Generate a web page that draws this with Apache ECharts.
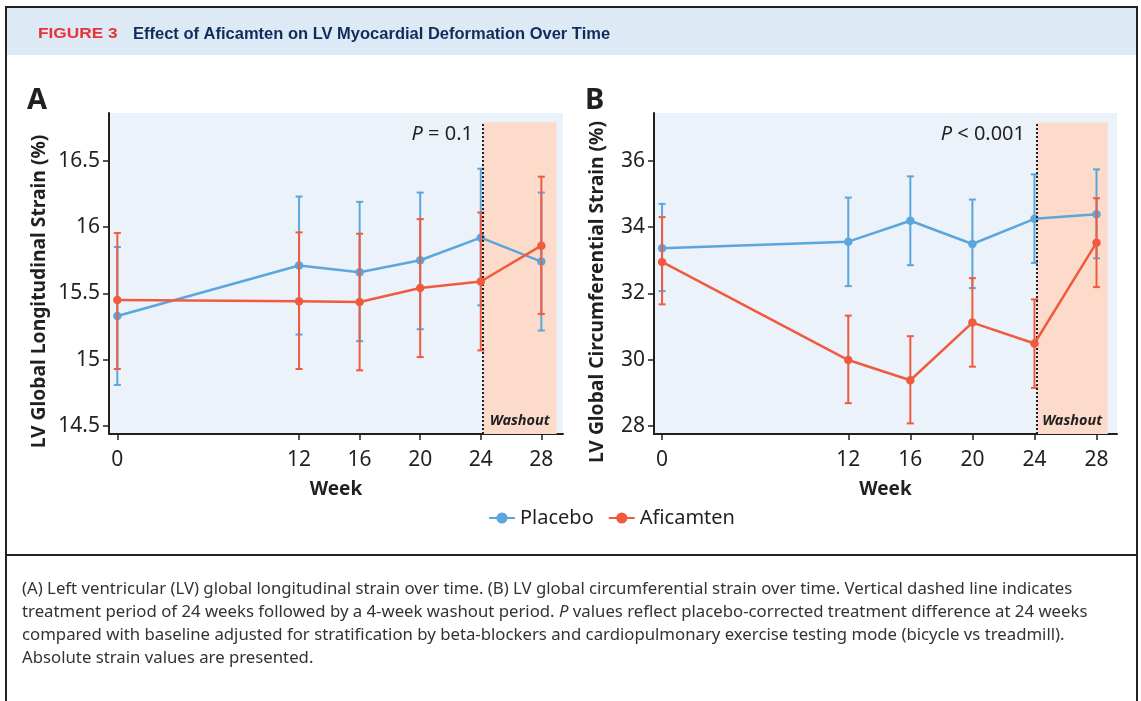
<!DOCTYPE html>
<html><head><meta charset="utf-8">
<script src="https://cdn.jsdelivr.net/npm/echarts@6/dist/echarts.min.js"></script>
<style>html,body{margin:0;padding:0;background:#fff}#c{width:1141px;height:701px}</style>
</head><body><div id="c"></div>
<script>
// ---- data ----
const weeks = [0, 12, 16, 20, 24, 28];
const weekTicks = [0, 12, 16, 20, 24, 28];
// Panel A: LV global longitudinal strain (%)
const glsPlacebo      = [15.33, 15.71, 15.66, 15.75, 15.92, 15.74];
const glsPlaceboLow   = [14.81, 15.19, 15.14, 15.23, 15.41, 15.22];
const glsPlaceboHigh  = [15.85, 16.23, 16.19, 16.26, 16.44, 16.26];
const glsAfi          = [15.45, 15.44, 15.435, 15.54, 15.59, 15.86];
const glsAfiLow       = [14.93, 14.93, 14.92, 15.02, 15.07, 15.345];
const glsAfiHigh      = [15.955, 15.96, 15.95, 16.06, 16.11, 16.38];
const glsTicks = [14.5, 15, 15.5, 16, 16.5];
// Panel B: LV global circumferential strain (%)
const gcsPlacebo      = [33.36, 33.56, 34.19, 33.49, 34.25, 34.39];
const gcsPlaceboLow   = [32.07, 32.22, 32.85, 32.16, 32.92, 33.06];
const gcsPlaceboHigh  = [34.70, 34.89, 35.53, 34.83, 35.59, 35.74];
const gcsAfi          = [32.95, 29.99, 29.38, 31.12, 30.49, 33.53];
const gcsAfiLow       = [31.67, 28.69, 28.08, 29.79, 29.15, 32.19];
const gcsAfiHigh      = [34.30, 31.33, 30.71, 32.46, 31.82, 34.87];
const gcsTicks = [28, 30, 32, 34, 36];
const washoutStart = 24.15;

// ---- styling ----
const BLUE = '#5ba6dc', RED = '#f05b3f', INK = '#231f20';
const FONT = '"Noto Sans", "Open Sans", sans-serif';
const zip = (a, b) => a.map((v, i) => [v, b[i]]);
const zip3 = (a, b, c) => a.map((v, i) => [v, b[i], c[i]]);

function errRender(params, api) {
  const x = api.value(0), lo = api.value(1), hi = api.value(2);
  const a = api.coord([x, lo]), b = api.coord([x, hi]);
  const w = 3.5;
  const st = { stroke: api.visual('color'), lineWidth: 2 };
  return { type: 'group', children: [
    { type: 'line', shape: { x1: a[0], y1: a[1], x2: b[0], y2: b[1] }, style: st },
    { type: 'line', shape: { x1: a[0] - w, y1: a[1], x2: a[0] + w, y2: a[1] }, style: st },
    { type: 'line', shape: { x1: b[0] - w, y1: b[1], x2: b[0] + w, y2: b[1] }, style: st }
  ]};
}

function xAxisDef(idx, min, max) {
  return {
    type: 'value', gridIndex: idx, min: min, max: max,
    name: 'Week', nameLocation: 'middle', nameGap: 46,
    nameTextStyle: { fontFamily: FONT, fontWeight: 'bold', fontSize: 19, color: INK },
    axisLine: { show: true, onZero: false, lineStyle: { color: INK, width: 2 } },
    axisTick: { show: true, length: 6, lineStyle: { color: INK, width: 1.5 }, customValues: weekTicks },
    axisLabel: { fontFamily: FONT, fontSize: 21, color: INK, margin: 16, customValues: weekTicks },
    splitLine: { show: false }
  };
}
function yAxisDef(idx, min, max, ticks) {
  return {
    type: 'value', gridIndex: idx, min: min, max: max,
    axisLine: { show: true, onZero: false, lineStyle: { color: INK, width: 2 } },
    axisTick: { show: true, length: 6, lineStyle: { color: INK, width: 1.5 }, customValues: ticks },
    axisLabel: { fontFamily: FONT, fontSize: 21, color: INK, margin: 9, customValues: ticks },
    splitLine: { show: false }
  };
}

function panelSeries(idx, placebo, pLo, pHi, afi, aLo, aHi, xMax, yMin, yTop) {
  return [
    { type: 'line', xAxisIndex: idx, yAxisIndex: idx, data: [], silent: true,
      markArea: { silent: true, itemStyle: { color: '#fcdbcb' },
        label: { show: true, position: 'insideBottom', distance: 6, formatter: 'Washout',
          fontFamily: FONT, fontWeight: 'bold', fontStyle: 'italic', fontSize: 14.5, color: INK },
        data: [[{ coord: [washoutStart, yTop] }, { coord: [xMax, yMin] }]] },
      markLine: { silent: true, symbol: 'none', label: { show: false },
        lineStyle: { color: INK, type: [2, 2], width: 2 },
        data: [[{ coord: [washoutStart, yMin] }, { coord: [washoutStart, yTop] }]] }
    },
    { type: 'custom', name: 'errP' + idx, xAxisIndex: idx, yAxisIndex: idx, renderItem: errRender,
      itemStyle: { color: BLUE }, data: zip3(weeks, pLo, pHi), z: 2 },
    { type: 'line', name: 'Placebo', xAxisIndex: idx, yAxisIndex: idx, data: zip(weeks, placebo),
      color: BLUE, symbol: 'circle', symbolSize: 8.5, lineStyle: { width: 2.5, color: BLUE },
      itemStyle: { color: BLUE }, z: 3 },
    { type: 'custom', name: 'errA' + idx, xAxisIndex: idx, yAxisIndex: idx, renderItem: errRender,
      itemStyle: { color: RED }, data: zip3(weeks, aLo, aHi), z: 4 },
    { type: 'line', name: 'Aficamten', xAxisIndex: idx, yAxisIndex: idx, data: zip(weeks, afi),
      color: RED, symbol: 'circle', symbolSize: 8.5, lineStyle: { width: 2.5, color: RED },
      itemStyle: { color: RED }, z: 5 }
  ];
}

const caption = [
  '(A) Left ventricular (LV) global longitudinal strain over time. (B) LV global circumferential strain over time. Vertical dashed line indicates',
  'treatment period of 24 weeks followed by a 4-week washout period. {i|P} values reflect placebo-corrected treatment difference at 24 weeks',
  'compared with baseline adjusted for stratification by beta-blockers and cardiopulmonary exercise testing mode (bicycle vs treadmill).',
  'Absolute strain values are presented.'
];

const chart = echarts.init(document.getElementById('c'), null, { renderer: 'canvas' });
const CAPSIZE = 16.75;
function capText(i, y) {
  return { type: 'text', x: 22, y: y, style: { text: caption[i], fontFamily: FONT, fontSize: CAPSIZE, fill: '#333',
    verticalAlign: 'middle', rich: { i: { fontStyle: 'italic', fontFamily: FONT, fontSize: CAPSIZE, fill: '#333' } } } };
}
function yTitle(text, x, y) {
  return { type: 'text', x: x, y: y, rotation: Math.PI / 2,
    style: { text: text, fontFamily: FONT, fontWeight: 'bold', fontSize: 19.3, fill: INK, align: 'center', verticalAlign: 'middle' } };
}
chart.setOption({
  animation: false,
  backgroundColor: '#fff',
  grid: [
    { left: 109, top: 113, width: 454, height: 321, show: true, backgroundColor: '#ebf2fa', borderWidth: 0 },
    { left: 654, top: 113, width: 463, height: 321, show: true, backgroundColor: '#ebf2fa', borderWidth: 0 }
  ],
  xAxis: [xAxisDef(0, -0.55, 29.43), xAxisDef(1, -0.52, 29.32)],
  yAxis: [yAxisDef(0, 14.44, 16.86, glsTicks), yAxisDef(1, 27.76, 37.44, gcsTicks)],
  legend: {
    data: ['Placebo', 'Aficamten'], left: 483, top: 503, itemWidth: 26, itemHeight: 14, itemGap: 14,
    textStyle: { fontFamily: FONT, fontSize: 20, color: INK }
  },
  series: [].concat(
    panelSeries(0, glsPlacebo, glsPlaceboLow, glsPlaceboHigh, glsAfi, glsAfiLow, glsAfiHigh, 29.0, 14.44, 16.79),
    panelSeries(1, gcsPlacebo, gcsPlaceboLow, gcsPlaceboHigh, gcsAfi, gcsAfiLow, gcsAfiHigh, 28.72, 27.76, 37.15)
  ),
  graphic: [
    { type: 'rect', shape: { x: 7, y: 8, width: 1129, height: 47 }, style: { fill: '#dde9f5' }, z: -10 },
    { type: 'rect', shape: { x: 6, y: 7, width: 1131, height: 720 }, style: { fill: 'none', stroke: '#222', lineWidth: 2 }, z: 10 },
    { type: 'line', shape: { x1: 6, y1: 555, x2: 1137, y2: 555 }, style: { stroke: '#222', lineWidth: 2 }, z: 10 },
    { type: 'text', x: 38, y: 34, scaleX: 1.15, style: { text: 'FIGURE 3', fontFamily: '"Liberation Sans", Arial, sans-serif', fontWeight: 'bold', fontSize: 15, fill: '#e8333c', verticalAlign: 'middle' } },
    { type: 'text', x: 133, y: 34, style: { text: 'Effect of Aficamten on LV Myocardial Deformation Over Time', fontFamily: '"Liberation Sans", Arial, sans-serif', fontWeight: 'bold', fontSize: 16.5, fill: '#0f2d5c', verticalAlign: 'middle' } },
    { type: 'text', left: 27, top: 86, style: { text: 'A', fontFamily: FONT, fontWeight: 'bold', fontSize: 29, fill: INK } },
    { type: 'text', left: 585, top: 86, style: { text: 'B', fontFamily: FONT, fontWeight: 'bold', fontSize: 29, fill: INK } },
    { type: 'text', right: 1141 - 473, top: 124, style: { text: '{i|P} = 0.1', fontFamily: FONT, fontSize: 20, fill: INK,
        rich: { i: { fontStyle: 'italic', fontFamily: FONT, fontSize: 20, fill: INK } } } },
    { type: 'text', right: 1141 - 1025, top: 124, style: { text: '{i|P} < 0.001', fontFamily: FONT, fontSize: 20, fill: INK,
        rich: { i: { fontStyle: 'italic', fontFamily: FONT, fontSize: 20, fill: INK } } } },
    yTitle('LV Global Longitudinal Strain (%)', 40, 291.5),
    yTitle('LV Global Circumferential Strain (%)', 598, 292),
    capText(0, 589), capText(1, 612), capText(2, 635), capText(3, 658)
  ]
});
</script></body></html>
